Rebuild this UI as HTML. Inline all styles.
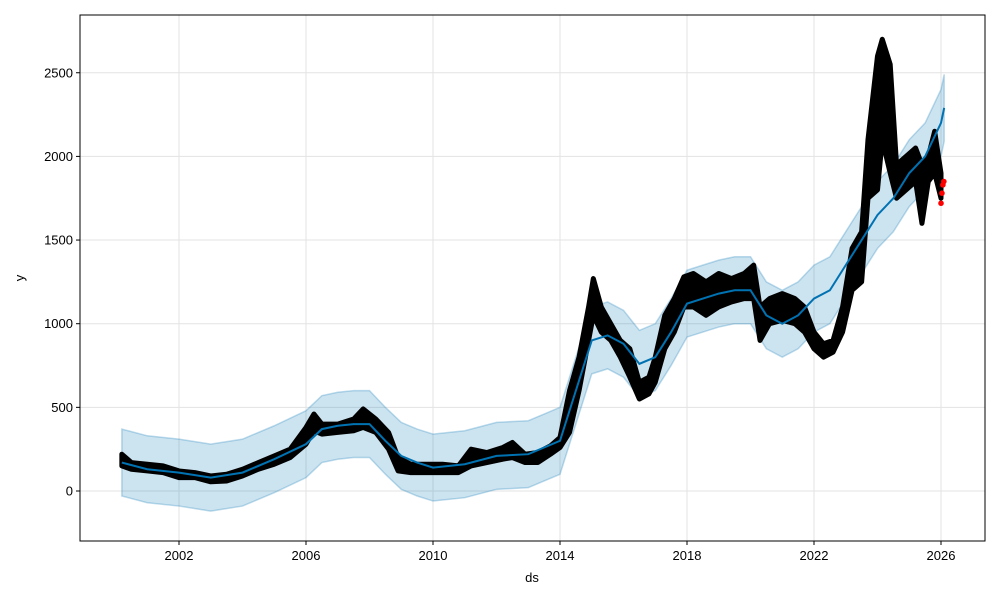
<!DOCTYPE html>
<html><head><meta charset="utf-8"><style>
body{margin:0;background:#fff;font-family:"Liberation Sans","DejaVu Sans",sans-serif}
svg text{font-family:"Liberation Sans","DejaVu Sans",sans-serif;font-size:13px;fill:#000}
</style></head><body>
<svg id="chart" width="1000" height="600" xmlns="http://www.w3.org/2000/svg"></svg>
<script>
const obsX=[2000.2,2000.5,2001,2001.5,2002,2002.5,2003,2003.5,2004,2004.5,2005,2005.5,2006,2006.25,2006.5,2007,2007.5,2007.8,2008.2,2008.6,2008.9,2009.3,2009.8,2010.3,2010.8,2011.2,2011.7,2012.2,2012.5,2012.9,2013.3,2013.7,2014.0,2014.3,2014.6,2014.9,2015.05,2015.3,2015.6,2015.9,2016.2,2016.5,2016.8,2017.0,2017.3,2017.6,2017.9,2018.2,2018.6,2019.0,2019.4,2019.8,2020.1,2020.3,2020.6,2021.0,2021.4,2021.7,2022.0,2022.3,2022.6,2022.9,2023.2,2023.5,2023.7,2024.0,2024.15,2024.4,2024.6,2024.9,2025.2,2025.4,2025.6,2025.8,2026.0];
const obsLow=[150,130,120,110,80,80,55,60,90,130,160,200,280,360,340,350,360,380,350,250,120,110,110,110,110,150,170,190,200,170,170,220,260,350,600,900,1050,950,900,800,680,550,580,650,850,950,1100,1100,1050,1100,1130,1150,1150,900,1000,1020,1000,950,850,800,830,950,1200,1250,1750,1800,2100,1900,1750,1800,1850,1600,1850,1900,1750];
const obsHigh=[220,170,160,150,120,110,90,100,130,170,210,250,380,460,400,400,430,490,430,350,200,160,160,160,150,250,230,260,290,220,230,270,320,600,800,1100,1270,1100,1000,900,850,650,680,800,1050,1150,1280,1300,1250,1300,1270,1300,1350,1100,1150,1180,1150,1100,950,880,900,1100,1450,1550,2100,2600,2700,2550,1950,2000,2050,1950,2000,2150,1900];
const fcX=[2026.0,2026.03,2026.06,2026.09];
const fcY=[1720,1780,1830,1850];
const hatX=[2000.2,2001,2002,2003,2004,2005,2006,2006.5,2007,2007.5,2008,2008.5,2009,2009.5,2010,2011,2012,2013,2013.5,2014,2014.5,2015,2015.5,2016,2016.5,2017,2017.5,2018,2018.5,2019,2019.5,2020,2020.5,2021,2021.5,2022,2022.5,2023,2023.5,2024,2024.5,2025,2025.5,2026,2026.1];
const hatY=[170,130,110,80,110,190,280,370,390,400,400,300,210,170,140,160,210,220,260,300,600,900,930,880,760,800,950,1120,1150,1180,1200,1200,1050,1000,1050,1150,1200,1350,1500,1650,1750,1900,2000,2200,2290];
const hatLower=[-30,-70,-90,-120,-90,-10,80,170,190,200,200,100,10,-30,-60,-40,10,20,60,100,400,700,730,680,560,600,750,920,950,980,1000,1000,850,800,850,950,1000,1150,1300,1450,1550,1700,1800,2000,2090];
const hatUpper=[370,330,310,280,310,390,480,570,590,600,600,500,410,370,340,360,410,420,460,500,800,1100,1130,1080,960,1000,1150,1320,1350,1380,1400,1400,1250,1200,1250,1350,1400,1550,1700,1850,1950,2100,2200,2400,2490];
const yTicks=[0,500,1000,1500,2000,2500];
const xTicks=[2002,2006,2010,2014,2018,2022,2026];
const L=80,R=985,T=15,B=541;
const xs=v=>179+(v-2002)*31.75;
const ys=v=>491-v*0.1673;
const svg=document.getElementById('chart');
const NS='http://www.w3.org/2000/svg';
function mk(tag,at,parent){const e=document.createElementNS(NS,tag);for(const k in at)e.setAttribute(k,at[k]);(parent||svg).appendChild(e);return e;}
const grid=mk('g',{});


yTicks.forEach(t=>{mk('line',{x1:L,x2:R,y1:ys(t),y2:ys(t),stroke:'#e3e3e3','stroke-width':1},grid);
const tx=mk('text',{x:L-7,y:ys(t)+4.5,'text-anchor':'end'});tx.textContent=t;


mk('line',{x1:L-4,x2:L,y1:ys(t),y2:ys(t),stroke:'#000'});});
xTicks.forEach(t=>{mk('line',{x1:xs(t),x2:xs(t),y1:T,y2:B,stroke:'#e3e3e3','stroke-width':1},grid);
const tx=mk('text',{x:xs(t),y:B+19,'text-anchor':'middle'});tx.textContent=t;


mk('line',{x1:xs(t),x2:xs(t),y1:B,y2:B+4,stroke:'#000'});});
let d=hatX.map((x,i)=>(i?'L':'M')+xs(x)+','+ys(hatUpper[i])).join('');
for(let i=hatX.length-1;i>=0;i--)d+='L'+xs(hatX[i])+','+ys(hatLower[i]);
const band=mk('path',{d:d+'Z',fill:'#0072B2','fill-opacity':0.2,stroke:'#0072B2','stroke-opacity':0.25,'stroke-width':1.5});


let cd=obsX.map((x,i)=>(i?'L':'M')+xs(x)+','+ys(obsHigh[i])).join('');
for(let i=obsX.length-1;i>=0;i--)cd+='L'+xs(obsX[i])+','+ys(obsLow[i]);
const cloud=mk('path',{d:cd+'Z',fill:'#000',stroke:'#000','stroke-width':5,'stroke-linejoin':'round'});


const line=mk('path',{d:hatX.map((x,i)=>(i?'L':'M')+xs(x)+','+ys(hatY[i])).join(''),fill:'none',stroke:'#0072B2','stroke-width':2});


fcX.forEach((x,i)=>{const c=mk('circle',{cx:xs(x),cy:ys(fcY[i]),r:2.8,fill:'red'});

});
const fr=mk('rect',{x:L,y:T,width:R-L,height:B-T,fill:'none',stroke:'#000','stroke-width':1});


const xl=mk('text',{x:532,y:582,'text-anchor':'middle'});xl.textContent='ds';


const yl=mk('text',{x:24,y:278,'text-anchor':'middle',transform:'rotate(-90 24 278)'});yl.textContent='y';


</script>
</body></html>
